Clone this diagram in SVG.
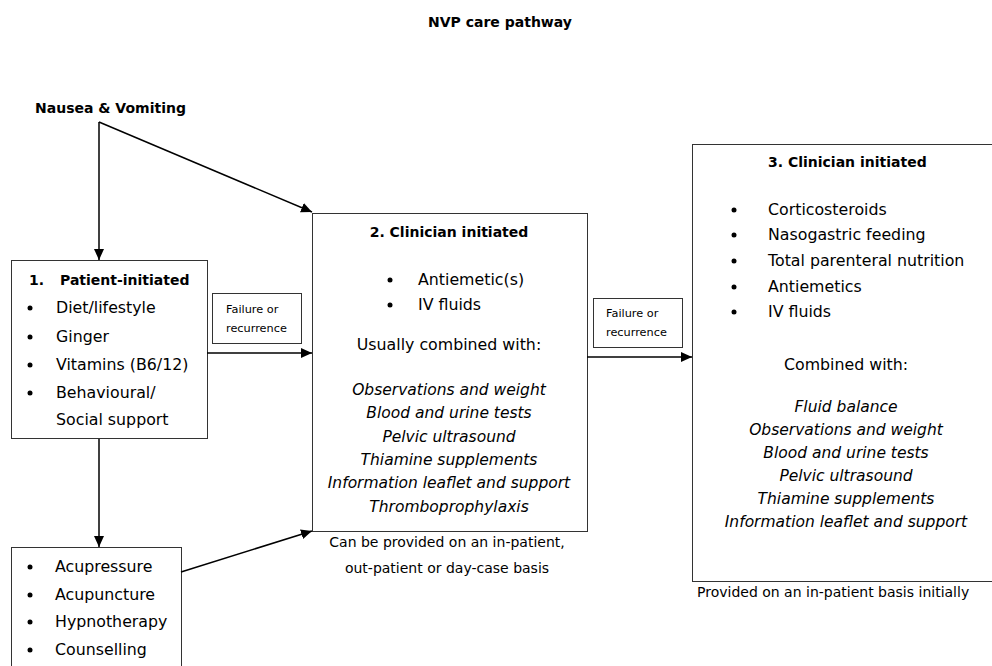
<svg xmlns="http://www.w3.org/2000/svg" width="992" height="666" viewBox="0 0 992 666">
<style>
text{font-family:"DejaVu Sans","Liberation Sans",Arial,sans-serif;fill:#000}
.t{font-size:15.8px}
.b{font-size:14px;font-weight:bold}
.i{font-size:15.5px;font-style:italic}
.s{font-size:11.3px}
.n{font-size:14px}
.c{text-anchor:middle}
.box{fill:#fff;stroke:#333;stroke-width:1}
.con{stroke:#000;stroke-width:1.5;fill:none;marker-end:url(#ah)}
</style>
<defs>
<marker id="ah" markerUnits="userSpaceOnUse" markerWidth="12" markerHeight="10" refX="11" refY="5" orient="auto">
<path d="M0,0 L11,5 L0,10 Z" fill="#000"/>
</marker>
</defs>
<rect width="992" height="666" fill="#fff"/>
<text class="b c" x="500" y="27">NVP care pathway</text>
<g id="start"><text class="b" x="35" y="113">Nausea &amp; Vomiting</text></g>

<g id="box1">
<rect class="box" x="11.5" y="260.5" width="196" height="178"/>
<text class="b" x="29" y="285">1.</text>
<text class="b" x="60" y="285">Patient-initiated</text>
<circle cx="30" cy="308" r="2.5"/><text class="t" x="56" y="313">Diet/lifestyle</text>
<circle cx="30" cy="337" r="2.5"/><text class="t" x="56" y="342">Ginger</text>
<circle cx="30" cy="365" r="2.5"/><text class="t" x="56" y="370">Vitamins (B6/12)</text>
<circle cx="30" cy="393" r="2.5"/><text class="t" x="56" y="398">Behavioural/</text>
<text class="t" x="56" y="425">Social support</text>
</g>

<g id="fail1">
<rect class="box" x="212.5" y="293.5" width="89" height="50"/>
<text class="s" x="226" y="313">Failure or</text>
<text class="s" x="226" y="332">recurrence</text>
</g>

<g id="box2">
<rect class="box" x="312.5" y="213.5" width="275" height="318"/>
<text class="b c" x="449" y="237">2. Clinician initiated</text>
<circle cx="390" cy="280" r="2.5"/><text class="t" x="418" y="285">Antiemetic(s)</text>
<circle cx="390" cy="305" r="2.5"/><text class="t" x="418" y="310">IV fluids</text>
<text class="t c" x="449" y="350">Usually combined with:</text>
<text class="i c" x="449" y="395">Observations and weight</text>
<text class="i c" x="449" y="418">Blood and urine tests</text>
<text class="i c" x="449" y="442">Pelvic ultrasound</text>
<text class="i c" x="449" y="465">Thiamine supplements</text>
<text class="i c" x="449" y="488">Information leaflet and support</text>
<text class="i c" x="449" y="512">Thromboprophylaxis</text>
<text class="n c" x="447" y="547">Can be provided on an in-patient,</text>
<text class="n c" x="447" y="573">out-patient or day-case basis</text>
</g>

<g id="fail2">
<rect class="box" x="593.5" y="298.5" width="89" height="49"/>
<text class="s" x="606" y="317">Failure or</text>
<text class="s" x="606" y="336">recurrence</text>
</g>

<g id="box3">
<rect class="box" x="692.5" y="144.5" width="310" height="437"/>
<text class="b" x="768" y="167">3. Clinician initiated</text>
<circle cx="734" cy="210" r="2.5"/><text class="t" x="768" y="215">Corticosteroids</text>
<circle cx="734" cy="235" r="2.5"/><text class="t" x="768" y="240">Nasogastric feeding</text>
<circle cx="734" cy="261" r="2.5"/><text class="t" x="768" y="266">Total parenteral nutrition</text>
<circle cx="734" cy="287" r="2.5"/><text class="t" x="768" y="292">Antiemetics</text>
<circle cx="734" cy="312" r="2.5"/><text class="t" x="768" y="317">IV fluids</text>
<text class="t c" x="846" y="370">Combined with:</text>
<text class="i c" x="846" y="412">Fluid balance</text>
<text class="i c" x="846" y="435">Observations and weight</text>
<text class="i c" x="846" y="458">Blood and urine tests</text>
<text class="i c" x="846" y="481">Pelvic ultrasound</text>
<text class="i c" x="846" y="504">Thiamine supplements</text>
<text class="i c" x="846" y="527">Information leaflet and support</text>
<text class="n" x="697" y="597">Provided on an in-patient basis initially</text>
</g>

<g id="box4">
<rect class="box" x="11.5" y="547.5" width="170" height="130"/>
<circle cx="30" cy="567" r="2.5"/><text class="t" x="55" y="572">Acupressure</text>
<circle cx="30" cy="595" r="2.5"/><text class="t" x="55" y="600">Acupuncture</text>
<circle cx="30" cy="622" r="2.5"/><text class="t" x="55" y="627">Hypnotherapy</text>
<circle cx="30" cy="650" r="2.5"/><text class="t" x="55" y="655">Counselling</text>
</g>

<g id="connectors">
<path class="con" d="M99,122 L99,260"/>
<path class="con" d="M99,122 L312,212"/>
<path class="con" d="M207,353 L312,353"/>
<path class="con" d="M587,357 L692,357"/>
<path class="con" d="M99,439 L99,547"/>
<path class="con" d="M181,572 L312,531"/>
</g>
</svg>
